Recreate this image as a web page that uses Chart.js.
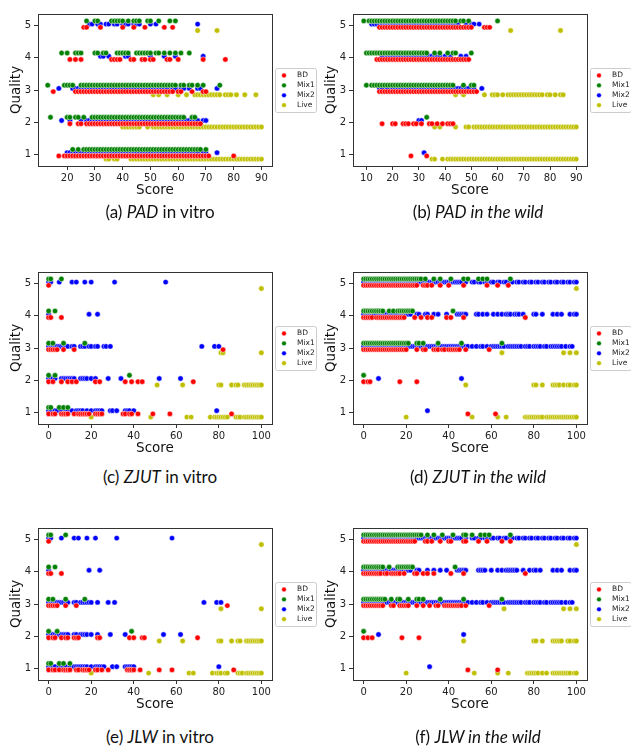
<!DOCTYPE html>
<html>
<head>
<meta charset="utf-8">
<script src="https://cdn.jsdelivr.net/npm/chart.js@4.4.1/dist/chart.umd.min.js"></script>
<style>
body { margin: 0; background: #fff; width: 631px; height: 749px; position: relative; overflow: hidden; }
.plot { position: absolute; }
.caption { position: absolute; width: 320px; text-align: center; font-family: Lato, sans-serif; font-size: 17px; line-height: 20px; color: #111; }
</style>
</head>
<body>
<canvas id="padVitro" class="plot" width="320" height="205" style="left:0;top:0"></canvas>
<canvas id="padWild" class="plot" width="316" height="205" style="left:315px;top:0"></canvas>
<canvas id="zjutVitro" class="plot" width="320" height="205" style="left:0;top:258px"></canvas>
<canvas id="zjutWild" class="plot" width="316" height="205" style="left:315px;top:258px"></canvas>
<canvas id="jlwVitro" class="plot" width="320" height="205" style="left:0;top:514px"></canvas>
<canvas id="jlwWild" class="plot" width="316" height="205" style="left:315px;top:514px"></canvas>

<div class="caption" style="left:0;top:202px">(a) <i>PAD</i> in vitro</div>
<div class="caption" style="left:318px;top:202px">(b) <i>PAD in the wild</i></div>
<div class="caption" style="left:0;top:467px">(c) <i>ZJUT</i> in vitro</div>
<div class="caption" style="left:318px;top:467px">(d) <i>ZJUT in the wild</i></div>
<div class="caption" style="left:0;top:727px">(e) <i>JLW</i> in vitro</div>
<div class="caption" style="left:318px;top:727px">(f) <i>JLW in the wild</i></div>

<script>
// series order and quality levels shared by all panels
const seriesNames = ["BD", "Mix1", "Mix2", "Live"];
const seriesColors = ["#ff0000", "#008000", "#0000ff", "#bfbf00"];
const qualityTicks = [1, 2, 3, 4, 5];
const scoreTicksPadVitro = [20, 30, 40, 50, 60, 70, 80, 90];
const scoreTicksPadWild = [10, 20, 30, 40, 50, 60, 70, 80, 90];
const scoreTicksPercent = [0, 20, 40, 60, 80, 100];

// scores per quality level: index 0 -> quality 1 ... index 4 -> quality 5

// PAD in vitro
const padVitroBD = [
  [17,19,20,21,22,23,24,25,26,27,28,29,30,31,32,33,34,35,36,37,38,39,40,41,42,43,44,45,46,47,48,49,50,51,52,53,54,55,56,57,58,59,60,61,62,63,64,65,66,67,68,69,70,71,80],
  [21,24,25,27,28,29,30,31,32,33,34,35,36,37,38,39,40,41,42,43,44,45,46,47,48,49,50,51,52,53,54,55,56,57,58,59,60,61,62,63,64,65,66,67,68],
  [15,23,24,25,26,27,28,29,30,31,32,33,34,35,36,37,38,39,40,41,42,43,44,45,46,47,48,49,50,51,52,53,54,55,56,57,58,60,61,65,69,70],
  [21,23,25,36,37,38,39,43,44,47,48,50,51,56,57,60,69,77],
  [26,27,32,40,44,48,55,58]
];
const padVitroMix1 = [
  [22,24,26,27,28,29,30,31,32,33,34,35,36,37,38,39,40,41,42,43,44,45,46,47,48,49,50,51,52,53,54,55,56,57,58,59,60,61,62,63,64,65,66,67,68,70],
  [14,20,21,23,24,26,29,30,31,32,33,34,35,36,37,38,39,40,41,42,43,44,45,46,47,48,49,50,51,52,53,54,55,56,57,58,59,60,61,62,65,66],
  [13,19,20,21,22,25,26,27,28,29,30,31,32,33,34,35,36,37,38,39,40,41,42,43,44,45,46,47,48,49,50,51,52,53,54,55,56,57,58,59,61,62,64,65,67,69,75],
  [18,20,23,24,25,30,31,33,34,38,39,40,41,42,45,46,47,48,49,50,52,53,55,57,59,61,64],
  [27,30,31,36,37,38,39,40,42,44,45,46,49,50,53,57,59]
];
const padVitroMix2 = [
  [20,21,22,23,24,25,26,27,28,29,30,31,32,33,34,35,36,37,38,39,40,41,42,43,44,45,46,47,48,49,50,51,52,53,54,55,56,57,58,59,60,61,62,63,64,65,66,67,69,70,74],
  [18,21,25,27,28,29,30,31,32,33,34,35,36,37,38,39,40,41,42,43,44,45,46,47,48,49,50,51,52,53,54,55,56,57,58,59,60,61,62,63,64,65,66,67,69,70],
  [17,22,23,24,25,26,27,28,29,30,31,32,33,34,35,36,37,38,39,40,41,42,43,44,45,46,47,48,49,50,51,52,53,54,55,56,58,59,61,62,64,67,68,74],
  [32,33,35,41,42,50,55,59,69],
  [28,29,31,32,34,35,37,38,40,41,42,44,45,46,50,52,67]
];
const padVitroLive = [
  [34,35,37,38,43,44,45,46,47,48,49,50,51,52,53,54,55,56,57,58,59,60,61,62,63,64,65,66,67,68,69,70,71,72,73,74,75,76,77,78,79,80,81,82,83,84,85,86,87,88,89,90],
  [40,41,42,43,44,45,46,49,51,52,53,54,55,56,57,58,59,60,61,62,63,64,65,66,67,68,69,70,71,72,73,74,75,76,77,78,79,80,81,82,83,84,85,86,87,88,89,90],
  [51,53,56,60,63,66,67,68,69,70,71,72,73,74,75,77,78,79,81,84,88],
  [],
  [67,74]
];

// PAD in the wild
const padWildBD = [
  [27,33],
  [16,20,21,24,25,26,28,29,31,34,35,37,39,41,42,43],
  [15,16,17,18,19,20,21,22,23,24,25,26,27,28,29,30,31,32,33,34,35,36,37,38,39,40,41,42,43,44,45,46,47,48,49,50,51,52],
  [14,15,16,17,18,19,20,21,22,23,24,25,26,27,28,29,30,31,32,33,34,35,36,37,38,39,40,41,42,43,44,45,46,47,48,49],
  [15,16,17,18,19,20,21,22,23,24,25,26,27,28,29,30,31,32,33,34,35,36,37,38,39,40,41,42,43,44,45,46,47,48,49,50,55,56,57]
];
const padWildMix1 = [
  [],
  [33],
  [10,12,13,14,15,16,17,18,19,20,21,22,23,24,25,26,27,28,29,30,31,32,33,34,35,36,37,38,39,40,41,42,43,47,50,51],
  [10,11,12,13,14,15,16,17,18,19,20,21,22,23,24,25,26,27,28,29,30,31,32,33,36,38,41,43,44,50],
  [9,11,12,13,14,15,16,17,18,19,20,21,22,23,24,25,26,27,28,29,30,31,32,33,34,35,36,37,38,39,40,41,42,43,44,46,47,49,60]
];
const padWildMix2 = [
  [32],
  [30,31],
  [15,16,18,20,21,22,23,24,25,26,27,28,29,30,31,32,33,34,35,36,37,38,39,40,41,42,43,44,45,46,47,48,49,51,54],
  [16,18,19,20,21,22,23,24,25,26,27,28,29,30,31,32,33,34,35,36,37,38,40,42,46,48],
  [12,13,14,15,16,17,18,19,20,21,22,23,24,25,26,27,28,29,30,31,32,33,34,35,36,37,38,39,40,41,42,43,44,45,48,50,51,53]
];
const padWildLive = [
  [35,36,39,41,42,43,44,45,46,47,48,49,50,51,52,53,54,55,56,57,58,59,60,61,62,63,64,65,66,67,68,69,70,71,72,73,74,75,76,77,78,79,80,81,82,83,84,85,86,87,88,89,90],
  [36,38,44,48,49,51,52,53,54,55,56,57,58,59,60,61,62,63,64,65,66,67,68,69,70,71,72,73,74,75,76,77,78,79,80,81,82,83,84,85,86,87,88,89,90],
  [44,47,55,58,59,60,62,64,65,66,67,68,69,70,71,72,73,74,75,76,77,79,80,82,84,85],
  [],
  [65,84]
];

// ZJUT in vitro
const zjutVitroBD = [
  [0,2,3,6,7,8,9,12,14,15,16,17,18,19,22,23,24,25,35,36,38,39,42,49,57,86],
  [0,2,6,9,11,13,22,24,36,39,42,44,68],
  [0,1,2,3,4,7,12,82],
  [0,1,6],
  [0]
];
const zjutVitroMix1 = [
  [0,1,5,7,9],
  [0,3,38],
  [0,2,7,17],
  [0,3],
  [0,1,6]
];
const zjutVitroMix2 = [
  [0,1,3,4,6,8,9,11,13,14,15,16,18,20,22,23,24,25,29,30,32,36,37,38,40,79],
  [0,1,2,3,6,7,8,9,10,11,12,15,16,17,18,20,22,28,34,52,62],
  [0,1,2,3,4,5,6,7,8,9,11,12,15,16,17,19,20,22,23,26,27,29,72,78,80],
  [0,19,23],
  [0,1,5,11,13,17,20,31,55]
];
const zjutVitroLive = [
  [20,48,65,67,76,78,79,80,81,82,83,84,88,89,90,92,93,94,95,96,97,98,99,100],
  [51,63,80,81,86,88,89,92,93,94,95,96,97,98,99,100],
  [81,82,100],
  [],
  [100]
];

// ZJUT in the wild
const zjutWildBD = [
  [49,62],
  [0,2,3,17,25],
  [0,1,2,3,4,5,6,7,8,9,10,11,12,13,14,15,16,17,18,19,20,25,28,29,33,34,35,37,38,40,41,42,43,44,45,48,59],
  [0,1,2,3,4,6,7,8,9,10,11,12,13,14,15,16,17,18,19,24,27,30,32,39,41,47,76],
  [0,1,2,3,4,5,6,7,8,9,10,11,12,13,14,15,16,17,18,19,20,21,22,23,24,25,28,29,30,32,36,40,47,58,63,68]
];
const zjutWildMix1 = [
  [],
  [0],
  [0,1,2,3,4,5,6,7,8,9,10,11,12,13,14,15,16,17,18,19,20,21,25,26,28,35,46,65],
  [0,1,2,3,4,5,6,7,8,9,12,14,16,17,18,19,20,21,22,23,42],
  [0,1,2,3,4,5,6,7,8,9,10,11,12,13,14,15,16,17,18,19,20,21,22,23,24,25,26,27,29,33,36,41,47,49,54,56,58,69]
];
const zjutWildMix2 = [
  [30],
  [7,46],
  [0,1,2,3,4,5,6,7,8,9,10,11,12,13,14,15,16,17,18,19,20,21,22,23,24,25,26,27,28,29,30,31,32,33,34,35,36,37,38,39,40,41,42,43,44,45,46,47,48,49,51,53,55,56,58,60,61,62,63,64,65,66,68,69,70,71,72,73,74,76,77,78,80,81,82,83,85,86,88,89,90,91,92,93,95,97,98],
  [0,1,2,3,4,5,6,7,8,9,10,11,12,13,14,15,16,17,18,19,20,21,22,25,26,29,30,33,35,39,44,45,46,47,48,53,54,56,58,61,63,65,67,68,69,71,72,73,75,80,81,84,89,91,93,97,99,100],
  [0,1,2,3,4,5,6,7,8,9,10,11,12,13,14,15,16,17,18,19,20,21,22,23,24,25,26,27,28,29,30,31,32,33,34,35,36,37,38,39,40,41,42,43,44,45,46,48,51,52,54,55,57,58,60,61,63,64,66,67,69,70,72,73,75,76,78,79,81,82,84,85,87,88,90,91,93,94,96,97,99,100]
];
const zjutWildLive = [
  [20,51,63,67,76,77,78,79,80,81,82,83,84,86,87,88,89,90,91,92,93,94,95,96,97,98,99,100],
  [48,80,81,84,89,90,91,92,94,96,97,99,100],
  [65,94,97,100],
  [],
  [100]
];

// JLW in vitro
const jlwVitroBD = [
  [0,2,3,5,7,8,9,10,13,14,16,17,18,19,22,23,25,28,37,38,39,40,43,52,58,87],
  [0,2,3,6,8,9,12,13,14,23,24,38,40,44,45,70],
  [0,1,2,3,4,8,13,84],
  [0,1,6],
  [0]
];
const jlwVitroMix1 = [
  [0,1,5,7,10],
  [0,4,39],
  [0,2,8,17],
  [0,3],
  [0,1,8]
];
const jlwVitroMix2 = [
  [0,1,2,3,5,6,7,8,10,12,13,14,15,16,17,18,20,22,23,24,25,26,30,32,36,37,38,39,40,80],
  [0,1,2,3,4,5,6,7,8,9,12,13,15,16,17,18,20,23,29,36,54,62],
  [0,1,2,3,4,5,6,7,8,9,12,13,15,16,17,18,19,20,23,28,31,73,79,81],
  [0,19,24],
  [0,1,6,12,14,18,22,32,58]
];
const jlwVitroLive = [
  [20,47,66,68,77,79,80,81,83,84,89,90,91,93,94,95,96,97,98,99,100],
  [52,63,80,81,86,89,90,93,94,95,96,97,98,99,100],
  [81,100],
  [],
  [100]
];

// JLW in the wild
const jlwWildBD = [
  [49,63],
  [0,2,4,18,26],
  [0,1,2,3,4,5,6,7,8,9,13,14,17,18,19,20,21,25,28,31,34,35,38,39,40,41,42,43,44,45,46,48,59],
  [0,1,2,3,4,5,6,7,8,10,11,13,14,15,16,17,19,24,25,28,30,33,41,47,76],
  [0,1,2,3,4,5,6,7,8,9,10,11,12,13,14,15,16,17,18,19,20,21,22,23,24,29,30,32,36,40,41,47,48,54,58,65,69]
];
const jlwWildMix1 = [
  [],
  [0],
  [0,1,2,3,4,5,6,7,8,9,10,13,16,17,21,25,26,28,36,47,65],
  [0,1,2,3,4,5,6,7,8,9,12,16,17,18,19,20,21,22,23,43],
  [0,1,2,3,4,5,6,7,8,9,10,11,12,13,14,15,16,17,18,19,20,21,22,23,24,25,26,27,30,33,37,42,47,48,51,55,57,59,69]
];
const jlwWildMix2 = [
  [31],
  [7,47],
  [0,1,2,3,4,5,6,7,8,9,10,11,12,13,14,15,16,17,18,19,20,21,22,23,24,25,26,27,28,29,30,31,32,33,34,35,36,37,38,39,40,41,42,43,44,45,46,47,48,49,51,53,55,56,58,60,61,62,63,64,65,66,68,69,70,71,72,73,74,76,77,78,80,81,82,83,85,86,88,89,90,91,92,93,95,97,98],
  [0,1,2,3,4,5,6,7,8,9,10,11,12,13,14,15,16,17,18,19,20,21,22,25,26,30,33,36,39,44,45,46,47,48,54,55,56,57,60,63,65,67,68,69,70,71,72,75,78,80,81,83,89,91,93,97,99,100],
  [0,1,2,3,4,5,6,7,8,9,10,11,12,13,14,15,16,17,18,19,20,21,22,23,24,25,26,27,28,29,30,31,32,33,34,35,36,37,38,39,40,41,42,43,44,45,46,48,51,52,54,55,57,58,60,61,63,64,66,67,69,70,72,73,75,76,78,79,81,82,84,85,87,88,90,91,93,94,96,97,99,100]
];
const jlwWildLive = [
  [20,52,63,68,77,78,79,80,81,82,84,86,89,90,91,92,93,94,95,96,97,99,100],
  [47,80,81,84,89,90,91,92,93,96,97,99,100],
  [66,94,97,100],
  [],
  [100]
];

// vertical nudge so the four series sit side by side at each quality level
const qualityShift = [-0.05, 0.15, 0.05, -0.15];

function toPoints(levels, shift) {
  const pts = [];
  levels.forEach(function (scores, qi) {
    scores.forEach(function (s) {
      pts.push({ x: s, y: qualityTicks[qi] + shift });
    });
  });
  return pts;
}

// axes frame + boxed legend to the right of the plot area
const frameAndLegend = {
  id: "frameAndLegend",
  afterDraw: function (chart) {
    const ctx = chart.ctx;
    const a = chart.chartArea;
    ctx.save();
    ctx.strokeStyle = "#333";
    ctx.lineWidth = 1;
    ctx.strokeRect(Math.round(a.left) + 0.5, Math.round(a.top) + 0.5, Math.round(a.right - a.left), Math.round(a.bottom - a.top));

    const bw = 41, bh = 44;
    const bx = a.right + 3;
    const by = (a.top + a.bottom) / 2 - bh / 2;
    ctx.beginPath();
    ctx.roundRect(bx + 0.5, by + 0.5, bw, bh, 2);
    ctx.fillStyle = "rgba(255,255,255,0.8)";
    ctx.fill();
    ctx.strokeStyle = "#cccccc";
    ctx.stroke();

    ctx.font = "7.5px 'DejaVu Sans'";
    ctx.textBaseline = "middle";
    chart.data.datasets.forEach(function (ds, i) {
      const cy = by + 7.5 + i * 9.9;
      ctx.beginPath();
      ctx.arc(bx + 9, cy, 2.4, 0, Math.PI * 2);
      ctx.fillStyle = ds.backgroundColor;
      ctx.fill();
      ctx.strokeStyle = "#fff";
      ctx.lineWidth = 0.5;
      ctx.stroke();
      ctx.fillStyle = "#222";
      ctx.fillText(ds.label, bx + 22, cy);
    });
    ctx.restore();
  }
};

function drawPanel(id, series, xMin, xMax, xTicks, rightPad) {
  const datasets = seriesNames.map(function (name, i) {
    return {
      label: name,
      data: toPoints(series[i], qualityShift[i]),
      backgroundColor: seriesColors[i],
      borderColor: "#ffffff",
      borderWidth: 0.5,
      pointRadius: 2.7
    };
  });

  const tickFont = { family: "DejaVu Sans", size: 10 };
  const titleFont = { family: "DejaVu Sans", size: 13.5 };

  new Chart(document.getElementById(id), {
    type: "scatter",
    data: { datasets: datasets },
    options: {
      responsive: false,
      animation: false,
      devicePixelRatio: 1,
      layout: { padding: { top: 14, right: rightPad, bottom: 3, left: 0 } },
      plugins: { legend: { display: false }, tooltip: { enabled: false } },
      scales: {
        x: {
          type: "linear",
          min: xMin,
          max: xMax,
          afterFit: function (s) { s.height = 36; },
          afterBuildTicks: function (s) { s.ticks = xTicks.map(function (v) { return { value: v }; }); },
          grid: { drawOnChartArea: false, drawTicks: true, tickLength: 4, color: "#333" },
          border: { display: false },
          ticks: { font: tickFont, color: "#222", padding: 2, maxRotation: 0 },
          title: { display: true, text: "Score", font: titleFont, color: "#111", padding: { top: 0, bottom: 3.6 } }
        },
        y: {
          type: "linear",
          min: 0.635,
          max: 5.365,
          afterFit: function (s) { s.width = 38; },
          afterBuildTicks: function (s) { s.ticks = qualityTicks.map(function (v) { return { value: v }; }); },
          grid: { drawOnChartArea: false, drawTicks: true, tickLength: 4, color: "#333" },
          border: { display: false },
          ticks: { font: tickFont, color: "#222", padding: 3 },
          title: { display: true, text: "Quality", font: titleFont, color: "#111", padding: { top: 8, bottom: 0 } }
        }
      }
    },
    plugins: [frameAndLegend]
  });
}

drawPanel("padVitro", [padVitroBD, padVitroMix1, padVitroMix2, padVitroLive], 9.5, 93.8, scoreTicksPadVitro, 48);
drawPanel("padWild", [padWildBD, padWildMix1, padWildMix2, padWildLive], 4.9, 94.1, scoreTicksPadWild, 44);
drawPanel("zjutVitro", [zjutVitroBD, zjutVitroMix1, zjutVitroMix2, zjutVitroLive], -5, 105, scoreTicksPercent, 48);
drawPanel("zjutWild", [zjutWildBD, zjutWildMix1, zjutWildMix2, zjutWildLive], -5, 105, scoreTicksPercent, 44);
drawPanel("jlwVitro", [jlwVitroBD, jlwVitroMix1, jlwVitroMix2, jlwVitroLive], -5, 105, scoreTicksPercent, 48);
drawPanel("jlwWild", [jlwWildBD, jlwWildMix1, jlwWildMix2, jlwWildLive], -5, 105, scoreTicksPercent, 44);
</script>
</body>
</html>
